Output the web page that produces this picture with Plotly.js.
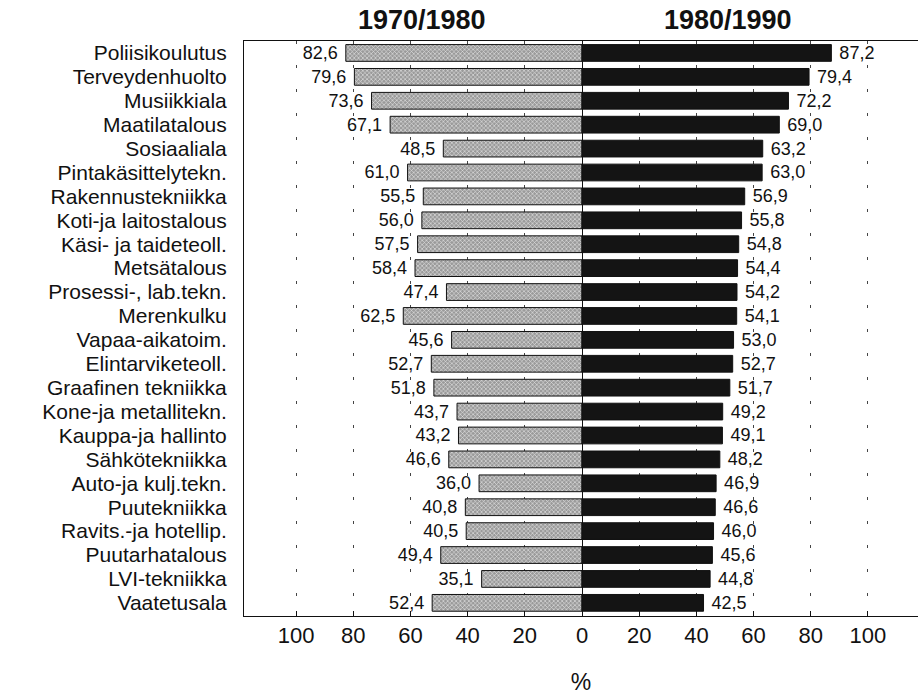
<!DOCTYPE html>
<html>
<head>
<meta charset="utf-8">
<script src="https://cdn.plot.ly/plotly-3.0.1.min.js"></script>
<style>html,body{margin:0;padding:0;background:#fff;}#chart{width:918px;height:695px;}</style>
</head>
<body>
<div id="chart"></div>
<script>
const categories = ["Poliisikoulutus","Terveydenhuolto","Musiikkiala","Maatilatalous","Sosiaaliala","Pintakäsittelytekn.","Rakennustekniikka","Koti-ja laitostalous","Käsi- ja taideteoll.","Metsätalous","Prosessi-, lab.tekn.","Merenkulku","Vapaa-aikatoim.","Elintarviketeoll.","Graafinen tekniikka","Kone-ja metallitekn.","Kauppa-ja hallinto","Sähkötekniikka","Auto-ja kulj.tekn.","Puutekniikka","Ravits.-ja hotellip.","Puutarhatalous","LVI-tekniikka","Vaatetusala"];
const values1970_1980 = [82.6,79.6,73.6,67.1,48.5,61.0,55.5,56.0,57.5,58.4,47.4,62.5,45.6,52.7,51.8,43.7,43.2,46.6,36.0,40.8,40.5,49.4,35.1,52.4];
const values1980_1990 = [87.2,79.4,72.2,69.0,63.2,63.0,56.9,55.8,54.8,54.4,54.2,54.1,53.0,52.7,51.7,49.2,49.1,48.2,46.9,46.6,46.0,45.6,44.8,42.5];
const tickValues = [-100,-80,-60,-40,-20,0,20,40,60,80,100];
const tickLabels = ["100","80","60","40","20","0","20","40","60","80","100"];
const seriesTitles = ["1970/1980","1980/1990"];

const fmt = v => v.toFixed(1).replace('.', ',');
const FONT = '"Liberation Sans", Arial, Helvetica, sans-serif';

const traces = [
  {
    type: 'bar', orientation: 'h',
    y: categories, x: values1970_1980.map(v => -v),
    text: values1970_1980.map(v => fmt(v) + ' '), textposition: 'outside', constraintext: 'none',
    textfont: {family: FONT, size: 18, color: '#111'},
    cliponaxis: false,
    width: 0.7,
    marker: {color: '#a8a8a8', line: {color: '#111', width: 1},
             pattern: {shape: 'x', fgcolor: '#e8e8e8', bgcolor: '#9a9a9a', size: 3, solidity: 0.35}},
    hoverinfo: 'skip', showlegend: false
  },
  {
    type: 'bar', orientation: 'h',
    y: categories, x: values1980_1990,
    text: values1980_1990.map(v => ' ' + fmt(v)), textposition: 'outside', constraintext: 'none',
    textfont: {family: FONT, size: 18, color: '#111'},
    cliponaxis: false,
    width: 0.7,
    marker: {color: '#141414', line: {color: '#111', width: 1}},
    hoverinfo: 'skip', showlegend: false
  }
];

const layout = {
  width: 918, height: 695,
  margin: {l: 244, r: 0, t: 41, b: 79},
  paper_bgcolor: '#fff', plot_bgcolor: '#fff',
  barmode: 'overlay',
  font: {family: FONT, color: '#111'},
  xaxis: {
    range: [-118.2, 117.5],
    tickmode: 'array', tickvals: tickValues, ticktext: tickLabels,
    tickfont: {family: FONT, size: 22, color: '#111'},
    ticks: 'inside', ticklen: 5, tickcolor: '#111',
    showline: true, linecolor: '#111', linewidth: 1, mirror: true,
    showgrid: true, gridcolor: '#444', gridwidth: 1, griddash: '3px,21px',
    zeroline: true, zerolinecolor: '#111', zerolinewidth: 1,
    title: {text: '%', font: {family: FONT, size: 23, color: '#111'}, standoff: 30},
    fixedrange: true
  },
  yaxis: {
    type: 'category',
    range: [23.55, -0.5],
    tickmode: 'array', tickvals: categories, ticktext: categories,
    tickfont: {family: FONT, size: 21, color: '#111'},
    ticks: '', ticklabelstandoff: 12,
    showline: true, linecolor: '#111', linewidth: 1,
    showgrid: false, zeroline: false,
    fixedrange: true
  },
  annotations: [
    {text: '<b>' + seriesTitles[0] + '</b>', x: -56, xref: 'x', y: 1, yref: 'paper', yanchor: 'bottom', yshift: 4,
     showarrow: false, font: {family: FONT, size: 27, color: '#111'}},
    {text: '<b>' + seriesTitles[1] + '</b>', x: 51, xref: 'x', y: 1, yref: 'paper', yanchor: 'bottom', yshift: 4,
     showarrow: false, font: {family: FONT, size: 27, color: '#111'}}
  ]
};

Plotly.newPlot('chart', traces, layout, {displayModeBar: false, staticPlot: true});
</script>
</body>
</html>
